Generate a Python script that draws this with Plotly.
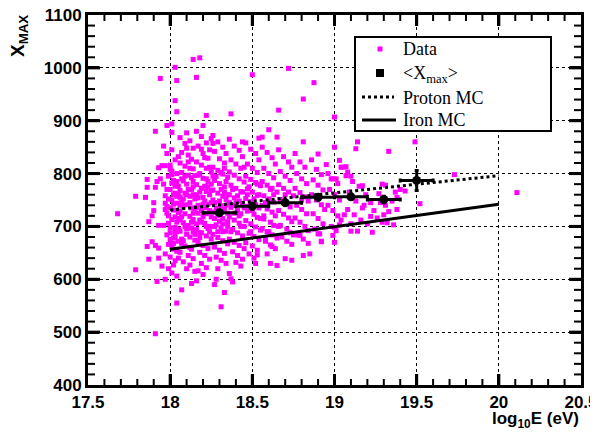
import plotly.graph_objects as go

# ---- scatter data: (log10 E, Xmax) ----
data_xy = [
    # outliers / sparse region
    (18.14,1016),(18.18,1019),(18.03,1001),(17.94,980),(18.04,976),(18.16,982),(18.50,987),
    (18.03,938),(18.04,917),(18.22,910),(18.37,913),(17.98,891),(18.01,894),(18.20,891),
    (17.91,880),(18.01,878),(18.10,877),(18.25,866),(18.54,867),(18.72,999),(18.875,972),
    (18.81,941),(18.66,920),(19.00,907),(18.60,883),(18.65,869),(18.81,860),(19.14,860),
    (19.13,847),(19.33,842),(19.49,860),(18.90,837),(19.03,825),(18.95,817),(19.04,812),
    (19.07,813),(19.73,798),(20.11,764),(19.52,743),(19.43,767),(19.38,732),(19.36,703),
    (19.30,722),(19.26,716),(19.22,719),(19.23,689),(19.14,691),(19.10,691),(19.06,722),
    (18.99,683),(18.92,672),(18.79,683),(19.00,698),(19.03,703),(18.92,671),(19.00,670),
    (18.85,648),(18.81,645),(18.74,636),(18.70,639),(18.65,626),(18.61,630),(18.59,648),
    (18.53,646),(18.52,630),(18.62,662),(18.58,675),(18.90,686),(18.75,684),
    (17.79,618),(17.87,638),(17.86,662),(17.89,671),(17.91,664),(17.93,659),(17.92,596),
    (17.97,600),(17.91,497),(18.04,555),(18.07,580),(18.13,592),(18.16,597),(18.20,609),
    (18.28,600),(18.27,590),(18.33,575),(18.31,548),(18.36,611),(18.37,601),(18.38,595),
    (17.68,724),(17.79,757),(17.85,755),(17.86,789),(17.86,774),(17.91,774),(17.90,730),
    (17.89,720),(17.90,745),(17.87,709),(17.93,702),(17.93,811),(17.95,815),(17.94,790),
    (17.92,785),(17.93,640),(17.95,625),(18.44,860),(18.26,857),(18.56,869),
    (19.00,850),(19.05,812),(19.08,803),(19.10,795),(18.98,790),(19.01,790),(19.17,777),
    (19.29,780),(19.31,778),(19.17,735),(19.32,707),(19.37,765),(19.28,745),
    # dense core, 17.95 - 18.05
    (17.96,852),(17.98,838),(18.01,845),(18.03,826),(17.97,815),(18.00,808),(18.04,800),
    (17.99,795),(18.02,787),(17.96,780),(18.05,776),(18.00,770),(18.03,763),(17.97,758),
    (18.01,750),(18.04,744),(17.98,738),(18.02,731),(18.05,726),(17.99,720),(18.01,713),
    (18.04,708),(17.96,702),(18.00,697),(18.03,690),(17.98,684),(18.02,678),(18.05,672),
    (17.99,666),(18.01,660),(18.04,653),(17.97,648),(18.00,642),(18.03,635),(18.02,627),
    (17.99,620),(18.01,612),(18.04,606),(18.00,816),(18.05,832),(17.97,744),(18.03,718),
    (18.00,688),(18.05,695),(18.02,742),(17.98,770),(18.04,757),(18.01,798),(18.03,681),
    (18.05,640),(18.02,657),(17.99,706),(18.03,776),
    (17.98,725),(18.00,735),(18.02,760),(18.04,785),(18.01,805),(17.99,752),(18.03,698),
    (18.05,715),(18.00,675),(18.02,668),(18.04,690),(17.97,732),(18.01,782),(18.05,760),
    # 18.05 - 18.15
    (18.06,868),(18.09,857),(18.12,862),(18.14,848),(18.07,840),(18.11,835),(18.13,827),
    (18.06,820),(18.09,814),(18.14,809),(18.07,802),(18.11,797),(18.13,792),(18.08,786),
    (18.10,780),(18.14,775),(18.06,768),(18.09,763),(18.12,757),(18.15,752),(18.07,746),
    (18.10,741),(18.13,735),(18.06,729),(18.09,724),(18.12,719),(18.14,713),(18.08,707),
    (18.11,702),(18.13,697),(18.06,691),(18.10,685),(18.12,680),(18.15,674),(18.07,668),
    (18.09,663),(18.13,657),(18.06,651),(18.11,645),(18.14,639),(18.08,633),(18.12,627),
    (18.10,620),(18.15,615),(18.07,790),(18.12,810),(18.15,730),(18.08,752),(18.14,690),
    (18.10,760),(18.06,712),(18.13,770),(18.09,700),(18.11,822),(18.15,796),(18.07,676),
    (18.14,760),(18.10,848),
    (18.08,738),(18.12,745),(18.06,755),(18.11,770),(18.14,785),(18.09,795),(18.07,718),
    (18.13,708),(18.10,695),(18.15,685),(18.08,673),(18.12,660),(18.06,740),(18.14,725),
    # 18.15 - 18.25
    (18.16,880),(18.19,870),(18.22,858),(18.24,845),(18.17,852),(18.20,838),(18.23,829),
    (18.16,822),(18.19,816),(18.22,810),(18.25,803),(18.17,797),(18.20,791),(18.23,785),
    (18.16,779),(18.19,772),(18.22,766),(18.24,760),(18.17,754),(18.21,748),(18.23,742),
    (18.16,736),(18.19,730),(18.22,724),(18.25,718),(18.18,712),(18.21,706),(18.24,700),
    (18.16,694),(18.19,688),(18.22,682),(18.25,676),(18.17,670),(18.20,664),(18.23,658),
    (18.18,651),(18.21,645),(18.24,638),(18.19,630),(18.22,622),(18.17,616),(18.24,812),
    (18.18,800),(18.21,776),(18.25,768),(18.17,740),(18.20,718),(18.23,696),(18.18,679),
    (18.25,745),(18.21,830),(18.16,760),(18.24,730),(18.19,846),(18.22,700),
    (18.18,765),(18.20,755),(18.23,775),(18.17,725),(18.21,735),(18.19,708),(18.24,690),
    (18.16,705),(18.22,790),(18.18,688),(18.20,742),(18.25,780),
    # 18.25 - 18.35
    (18.26,872),(18.29,860),(18.32,850),(18.34,838),(18.27,842),(18.30,828),(18.33,820),
    (18.26,812),(18.29,806),(18.32,799),(18.35,793),(18.27,787),(18.30,781),(18.33,775),
    (18.26,769),(18.29,763),(18.32,757),(18.34,751),(18.27,745),(18.31,739),(18.33,733),
    (18.26,727),(18.29,721),(18.32,715),(18.35,709),(18.28,703),(18.31,697),(18.34,691),
    (18.26,685),(18.29,679),(18.32,673),(18.35,667),(18.27,661),(18.30,655),(18.33,649),
    (18.28,642),(18.31,636),(18.34,630),(18.29,620),(18.32,690),(18.35,760),(18.28,795),
    (18.33,810),(18.26,750),(18.30,710),(18.35,725),(18.27,700),(18.31,770),(18.34,785),
    (18.28,735),(18.30,748),(18.33,765),(18.27,715),(18.32,705),(18.29,690),(18.34,740),
    (18.26,795),(18.31,802),(18.35,700),
    # 18.35 - 18.45
    (18.36,865),(18.39,852),(18.42,844),(18.44,832),(18.37,826),(18.40,818),(18.43,810),
    (18.36,803),(18.39,797),(18.42,790),(18.45,784),(18.37,778),(18.40,772),(18.43,766),
    (18.36,760),(18.39,754),(18.42,748),(18.44,742),(18.37,736),(18.41,730),(18.43,724),
    (18.36,718),(18.39,712),(18.42,706),(18.45,700),(18.38,694),(18.41,688),(18.44,682),
    (18.36,676),(18.39,670),(18.42,664),(18.45,658),(18.38,652),(18.41,645),(18.44,638),
    (18.40,632),(18.43,625),(18.38,740),(18.44,765),(18.37,690),(18.42,720),(18.45,812),
    (18.40,745),(18.38,770),(18.41,758),(18.36,745),(18.43,700),(18.39,725),(18.45,735),
    # 18.45 - 18.55
    (18.46,858),(18.49,846),(18.52,838),(18.54,826),(18.47,818),(18.50,810),(18.53,802),
    (18.46,795),(18.49,789),(18.52,783),(18.55,777),(18.47,771),(18.50,765),(18.53,759),
    (18.46,753),(18.49,747),(18.52,741),(18.54,735),(18.47,729),(18.51,723),(18.53,717),
    (18.46,711),(18.49,705),(18.52,699),(18.55,693),(18.48,687),(18.51,681),(18.54,675),
    (18.46,669),(18.50,663),(18.53,655),(18.48,648),(18.51,640),(18.47,760),(18.53,780),
    (18.50,730),(18.55,715),(18.49,690),(18.48,775),(18.51,752),(18.46,738),(18.54,760),
    # 18.55 - 18.65
    (18.56,850),(18.59,840),(18.62,830),(18.64,818),(18.57,810),(18.60,800),(18.63,792),
    (18.56,785),(18.59,778),(18.62,772),(18.65,765),(18.57,758),(18.60,752),(18.63,746),
    (18.56,740),(18.59,733),(18.62,727),(18.64,720),(18.57,714),(18.61,708),(18.63,702),
    (18.56,696),(18.59,690),(18.62,684),(18.65,678),(18.58,672),(18.61,665),(18.64,658),
    (18.57,720),(18.63,760),(18.60,690),(18.58,745),(18.61,770),
    # 18.65 - 18.75
    (18.66,845),(18.69,832),(18.72,822),(18.74,812),(18.67,804),(18.70,795),(18.73,787),
    (18.66,779),(18.69,772),(18.72,765),(18.75,758),(18.67,751),(18.70,744),(18.73,737),
    (18.66,730),(18.69,723),(18.72,716),(18.74,709),(18.67,702),(18.71,695),(18.73,688),
    (18.68,680),(18.71,672),(18.74,666),(18.70,760),(18.66,700),
    # 18.75 - 18.85
    (18.76,838),(18.79,822),(18.82,812),(18.77,800),(18.80,790),(18.83,781),(18.76,772),
    (18.79,764),(18.82,756),(18.84,748),(18.77,740),(18.80,732),(18.83,724),(18.76,716),
    (18.79,708),(18.82,700),(18.84,692),(18.78,684),(18.81,676),(18.84,668),(18.80,750),
    # 18.85 - 19.05
    (18.86,826),(18.89,808),(18.92,798),(18.87,788),(18.90,778),(18.93,769),(18.86,760),
    (18.89,750),(18.92,741),(18.94,732),(18.87,724),(18.90,715),(18.93,705),(18.88,695),
    (18.91,686),(18.96,800),(18.99,790),(19.02,781),(18.97,770),(19.00,760),(19.03,750),
    (18.96,740),(18.99,730),(19.02,720),(19.04,712),(18.98,700),(19.01,692),
    # 19.05 - 19.45
    (19.07,796),(19.11,785),(19.15,776),(19.09,765),(19.13,748),(19.18,740),(19.08,732),
    (19.12,722),(19.16,712),(19.20,705),(19.24,730),(19.19,760),(19.22,745),(19.10,705),
    (19.27,762),(19.31,740),(19.35,748),(19.40,770),(19.33,728),(19.29,708),(19.38,755),
]
data_x = [p[0] for p in data_xy]
data_y = [p[1] for p in data_xy]

# ---- <Xmax> points ----
mean_x = [18.3, 18.5, 18.7, 18.9, 19.1, 19.3, 19.5]
mean_y = [726, 738, 745, 755, 756, 751, 787]
mean_ex = [0.1, 0.1, 0.1, 0.1, 0.1, 0.1, 0.1]
mean_ey = [5, 5, 5, 5, 5, 6, 19]

# ---- MC lines ----
mc_x = [18.0, 20.0]
proton_y = [731, 796]
iron_y = [657, 742]

# ---- ticks ----
x_ticks = [17.5, 18.0, 18.5, 19.0, 19.5, 20.0, 20.5]
x_ticklabels = ["17.5", "18", "18.5", "19", "19.5", "20", "20.5"]
y_ticks = [400, 500, 600, 700, 800, 900, 1000, 1100]
y_ticklabels = ["400", "500", "600", "700", "800", "900", "1000", "1100"]
x_minor_step = 0.1
y_minor_step = 20

legend_labels = ["Data", "&lt;X<sub>max</sub>&gt;", "Proton MC", "Iron MC"]

X_RANGE = [17.5, 20.5]
Y_RANGE = [400, 1100]
PLOT_W, PLOT_H = 493.0, 370.0   # plot-area size in pixels

MAG = "#ff00ff"
fig = go.Figure()

# ---- inside tick marks on all four sides, built from the tick arrays (drawn first) ----
def px_to_dx(p):
    return p * (X_RANGE[1] - X_RANGE[0]) / PLOT_W
def px_to_dy(p):
    return p * (Y_RANGE[1] - Y_RANGE[0]) / PLOT_H

def tick_segments(xvals, yvals, xlen_px, ylen_px):
    sx, sy = [], []
    dy = px_to_dy(xlen_px)
    for v in xvals:
        sx += [v, v, None, v, v, None]
        sy += [Y_RANGE[0], Y_RANGE[0] + dy, None, Y_RANGE[1], Y_RANGE[1] - dy, None]
    dx = px_to_dx(ylen_px)
    for v in yvals:
        sx += [X_RANGE[0], X_RANGE[0] + dx, None, X_RANGE[1], X_RANGE[1] - dx, None]
        sy += [v, v, None, v, v, None]
    return sx, sy

x_minor = [round(x_ticks[i] + k * x_minor_step, 3) for i in range(len(x_ticks) - 1) for k in range(1, 5)]
y_minor = [y_ticks[i] + k * y_minor_step for i in range(len(y_ticks) - 1) for k in range(1, 5)]
mx, my = tick_segments(x_minor, y_minor, 6, 7)
Mx, My = tick_segments(x_ticks[1:-1], y_ticks[1:-1], 11, 12)
fig.add_trace(go.Scatter(x=mx, y=my, mode="lines", showlegend=False, hoverinfo="skip",
                         connectgaps=False, line=dict(color="black", width=2)))
fig.add_trace(go.Scatter(x=Mx, y=My, mode="lines", showlegend=False, hoverinfo="skip",
                         connectgaps=False, line=dict(color="black", width=3)))

fig.add_trace(go.Scatter(x=data_x, y=data_y, mode="markers", name="Data",
                         marker=dict(symbol="square", size=5, color=MAG)))
fig.add_trace(go.Scatter(x=mc_x, y=proton_y, mode="lines", name="Proton MC",
                         line=dict(color="black", width=3, dash="dot")))
fig.add_trace(go.Scatter(x=mc_x, y=iron_y, mode="lines", name="Iron MC",
                         line=dict(color="black", width=3)))
fig.add_trace(go.Scatter(x=mean_x, y=mean_y, mode="markers", name="<Xmax>",
                         marker=dict(symbol="circle", size=9, color="black"),
                         error_x=dict(type="data", array=mean_ex, color="black", thickness=3, width=2),
                         error_y=dict(type="data", array=mean_ey, color="black", thickness=3, width=2)))

# page-pixel -> paper helpers (plot area spans 88..581 x, 15..385 y on the page)
def px(v):
    return (v - 88) / PLOT_W
def py(v):
    return (385 - v) / PLOT_H

shapes = [
    dict(type="rect", xref="paper", yref="paper", x0=px(355), x1=px(551), y0=py(131), y1=py(37),
         line=dict(color="black", width=2), fillcolor="white", layer="above"),
    dict(type="rect", xref="paper", yref="paper", x0=px(377.5), x1=px(382.5), y0=py(51.5), y1=py(46.5),
         line=dict(width=0), fillcolor=MAG, layer="above"),
    dict(type="rect", xref="paper", yref="paper", x0=px(376), x1=px(384), y0=py(77), y1=py(69),
         line=dict(width=0), fillcolor="black", layer="above"),
    dict(type="line", xref="paper", yref="paper", x0=px(362), x1=px(394), y0=py(97), y1=py(97),
         line=dict(color="black", width=3, dash="dot"), layer="above"),
    dict(type="line", xref="paper", yref="paper", x0=px(362), x1=px(396), y0=py(120), y1=py(120),
         line=dict(color="black", width=3), layer="above"),
]

legend_y = [49, 74, 98, 120]
annotations = [
    dict(text=t, xref="paper", yref="paper", x=px(401), y=py(yy), xanchor="left", yanchor="middle",
         showarrow=False, font=dict(family="Liberation Serif", size=18, color="black"))
    for t, yy in zip(legend_labels, legend_y)
]
annotations += [
    dict(text="<b>X<sub>MAX</sub></b>", xref="paper", yref="paper", x=px(19), y=py(13),
         xanchor="center", yanchor="top", textangle=-90, showarrow=False,
         font=dict(family="Liberation Sans", size=19, color="black")),
    dict(text="<b>log<sub>10</sub>E (eV)</b>", xref="paper", yref="paper", x=px(581), y=py(420),
         xanchor="right", yanchor="middle", showarrow=False,
         font=dict(family="Liberation Sans", size=17, color="black")),
]

tickfont = dict(family="Liberation Sans", size=17, color="black")
axis_common = dict(showline=True, linecolor="black", linewidth=3, mirror="ticks",
                   ticks="inside", ticklen=11, tickwidth=3, tickcolor="black",
                   showgrid=True, gridcolor="black", griddash="dot",
                   tickfont=tickfont, automargin=False, ticklabeloverflow="allow",
                   zeroline=False, layer="above traces")
fig.update_xaxes(range=X_RANGE, tickmode="array", tickvals=x_ticks,
                 ticktext=["<b>%s</b>" % t for t in x_ticklabels], **axis_common)
fig.update_yaxes(range=Y_RANGE, tickmode="array", tickvals=y_ticks,
                 ticktext=["<b>%s</b>" % t for t in y_ticklabels], **axis_common)

# figure is placed with the page's 8px body margin, so size/margins compensate for it
fig.update_layout(
    width=590, height=424,
    margin=dict(l=80, r=17, t=7, b=47, autoexpand=False),
    paper_bgcolor="white", plot_bgcolor="white",
    showlegend=False,
    shapes=shapes,
    annotations=annotations,
)

fig.write_html("out.html")
